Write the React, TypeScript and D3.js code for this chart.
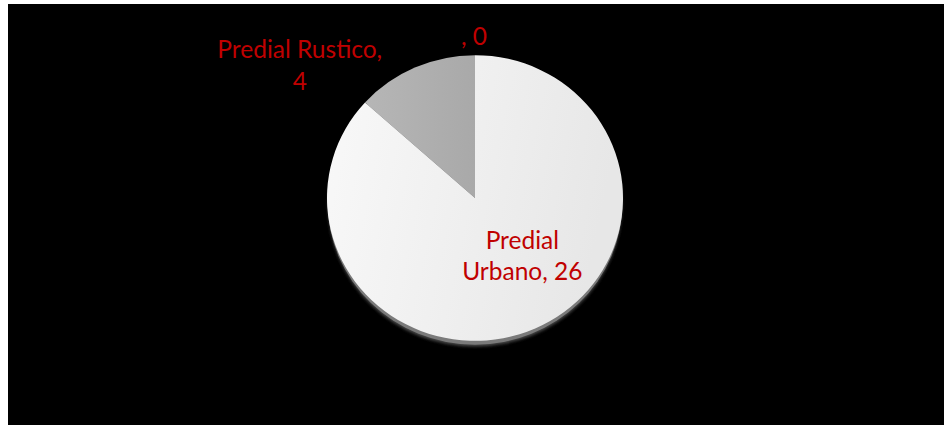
import React from "react";
import * as d3 from "d3";

const categories = ["Predial Urbano", "Predial Rustico", ""];
const values = [26, 4, 0];
const labelLines = [["Predial", "Urbano, 26"], ["Predial Rustico,", "4"], [", 0"]];

const W = 944;
const H = 425;
const CX = 475;
const CY = 198;
const R = 148;
const SY = 0.965;

export default function App() {
  const pie = d3.pie<number>().sort(null).value((d) => d).startAngle(0).endAngle(2 * Math.PI);
  const arcs = pie(values);
  const arcGen = d3.arc<d3.PieArcDatum<number>>().innerRadius(0).outerRadius(R);
  const fills = ["url(#gWhite)", "url(#gGray)", "#8c8c8c"];
  // label placement: radius factor & offsets (layout)
  const labelR = [0.62, 1.15, 1.1];
  const labelDx = [10, -106, -1];
  const labelDy = [-24.5, 16, -6];
  const lineH = 31.5;
  return (
    <svg width={W} height={H} style={{ position: "absolute", left: 0, top: 0 }}>
      <defs>
        <linearGradient id="gWhite" x1="0" y1="0" x2="1" y2="0.2">
          <stop offset="0" stopColor="#f9f9f9" />
          <stop offset="1" stopColor="#e7e7e7" />
        </linearGradient>
        <linearGradient id="gGray" x1="0" y1="0" x2="1" y2="0">
          <stop offset="0" stopColor="#b6b6b6" />
          <stop offset="1" stopColor="#a9a9a9" />
        </linearGradient>
        <filter id="blur" x="-10%" y="-10%" width="120%" height="120%">
          <feGaussianBlur stdDeviation="1.5" />
        </filter>
      </defs>
      <rect x={0} y={0} width={W} height={H} fill="#ffffff" />
      <rect x={8} y={4} width={W - 8} height={H - 4} fill="#000000" />
      <g transform={`translate(${CX},${CY}) scale(1,${SY})`}>
        <ellipse cx={0} cy={6} rx={R - 1} ry={R} fill="#4a4a4a" filter="url(#blur)" />
        <ellipse cx={0} cy={4} rx={R - 0.5} ry={R} fill="#7a7a7a" />
        {arcs.map((a, i) =>
          a.endAngle - a.startAngle > 0 ? (
            <path key={categories[i] + i} d={arcGen(a) || ""} fill={fills[i]} />
          ) : null
        )}
      </g>
      {arcs.map((a, i) => {
        const mid = (a.startAngle + a.endAngle) / 2;
        const rr = R * labelR[i];
        const x = CX + Math.sin(mid) * rr + labelDx[i];
        const y = CY - Math.cos(mid) * rr * SY + labelDy[i];
        const lines = labelLines[i];
        const y0 = y - ((lines.length - 1) * lineH) / 2;
        return (
          <text
            key={"l" + i}
            x={x}
            y={y0}
            textAnchor="middle"
            dominantBaseline="central"
            fill="#c00000"
            fontFamily="Lato, 'Open Sans', sans-serif"
            fontSize={24.5}
          >
            {lines.map((t, j) => (
              <tspan key={j} x={x} y={y0 + j * lineH}>
                {t}
              </tspan>
            ))}
          </text>
        );
      })}
    </svg>
  );
}
